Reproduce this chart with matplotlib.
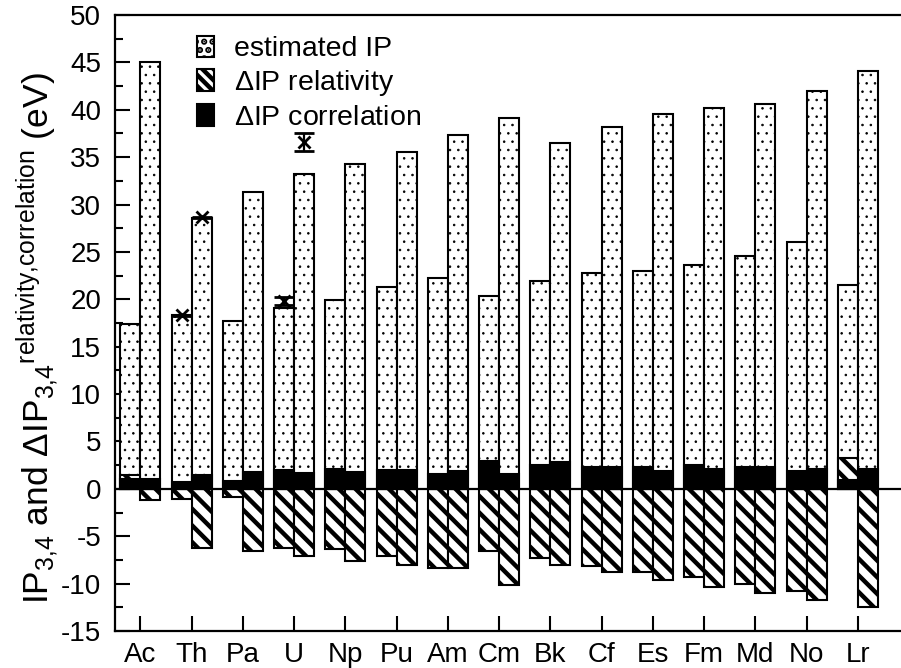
import numpy as np
import matplotlib
matplotlib.use('Agg')
import matplotlib.pyplot as plt
from matplotlib.patches import Patch

plt.rcParams['font.family'] = ['Liberation Sans', 'DejaVu Sans']
plt.rcParams['mathtext.fontset'] = 'custom'
plt.rcParams['mathtext.rm'] = 'Liberation Sans'
plt.rcParams['mathtext.it'] = 'Liberation Sans'
plt.rcParams['hatch.color'] = 'black'
plt.rcParams['axes.unicode_minus'] = False

elements = ['Ac', 'Th', 'Pa', 'U', 'Np', 'Pu', 'Am', 'Cm', 'Bk', 'Cf', 'Es', 'Fm', 'Md', 'No', 'Lr']

# estimated IP3 / IP4 (eV)
est_ip3 = [17.4, 18.3, 17.7, 19.1, 19.9, 21.3, 22.3, 20.3, 21.9, 22.8, 23.0, 23.6, 24.6, 26.0, 21.5]
est_ip4 = [45.0, 28.6, 31.3, 33.2, 34.3, 35.5, 37.3, 39.1, 36.5, 38.2, 39.6, 40.2, 40.6, 42.0, 44.1]
# relativity contribution
rel_ip3 = [1.5, -1.1, -0.9, -6.2, -6.4, -7.1, -8.3, -6.6, -7.3, -8.1, -8.8, -9.3, -10.0, -10.8, 3.3]
rel_ip4 = [-1.2, -6.2, -6.6, -7.1, -7.6, -8.0, -8.4, -10.1, -8.0, -8.8, -9.6, -10.4, -11.0, -11.7, -12.5]
# correlation contribution
corr_ip3 = [1.0, 0.7, 0.8, 2.0, 2.1, 2.0, 1.6, 2.9, 2.5, 2.3, 2.3, 2.5, 2.3, 1.9, 0.95]
corr_ip4 = [1.0, 1.5, 1.8, 1.7, 1.8, 2.0, 1.9, 1.6, 2.8, 2.3, 1.9, 2.1, 2.3, 2.1, 2.1]

# experimental values (element, which IP, value, error)
exp_elem = ['Th', 'Th', 'U', 'U']
exp_ip = [3, 4, 3, 4]
exp_val = [18.32, 28.65, 19.8, 36.6]
exp_err = [0.06, 0.06, 0.45, 0.9]

fig = plt.figure(figsize=(9.01, 6.68), dpi=100)
ax = fig.add_axes([115/901, 37/668, 790/901, 616/668])

x = np.arange(len(elements))
w = 0.39
lw = 1.5

plt.rcParams['hatch.linewidth'] = 0.6
ax.bar(x - w/2, est_ip3, w, facecolor='white', edgecolor='black', hatch='..', linewidth=lw, zorder=2)
ax.bar(x + w/2, est_ip4, w, facecolor='white', edgecolor='black', hatch='..', linewidth=lw, zorder=2)
plt.rcParams['hatch.linewidth'] = 3.2
ax.bar(x - w/2, rel_ip3, w, facecolor='white', edgecolor='black', hatch='\\\\', linewidth=lw, zorder=3)
ax.bar(x + w/2, rel_ip4, w, facecolor='white', edgecolor='black', hatch='\\\\', linewidth=lw, zorder=3)
ax.bar(x - w/2, corr_ip3, w, facecolor='black', edgecolor='black', linewidth=lw, zorder=4)
ax.bar(x + w/2, corr_ip4, w, facecolor='black', edgecolor='black', linewidth=lw, zorder=4)

ax.axhline(0, color='black', lw=1.6, zorder=5)

ex = [elements.index(e) + (-w/2 if ip == 3 else w/2) for e, ip in zip(exp_elem, exp_ip)]
ax.errorbar(ex, exp_val, yerr=exp_err, fmt='x', color='black', ms=9, mew=2,
            capsize=7, elinewidth=1.6, capthick=1.6, zorder=6)

ax.set_xlim(-0.494, 14.92)
ax.set_ylim(-15, 50)
ax.set_yticks(np.arange(-15, 51, 5))
ax.set_yticks(np.arange(-15, 50, 2.5), minor=True)
ax.set_xticks(x)
ax.set_xticklabels(elements)

ax.tick_params(axis='both', which='major', direction='in', labelsize=20, width=1.5, length=11)
ax.tick_params(axis='y', which='minor', direction='in', width=1.5, length=6)
ax.tick_params(axis='y', pad=10)
ax.tick_params(axis='x', pad=8)
for s in ax.spines.values():
    s.set_linewidth(1.6)
ax.spines['right'].set_visible(False)

ax.set_ylabel(r'$\mathregular{IP_{3{,}4}}$ and $\mathregular{\Delta IP_{3{,}4}{}^{relativity{,}correlation}}$ (eV)',
              fontsize=25.5, labelpad=0)
ax.yaxis.label.set_y(0.475)

handles = [Patch(facecolor='white', edgecolor='black', hatch='..', linewidth=lw),
           Patch(facecolor='white', edgecolor='black', hatch='\\\\\\', linewidth=lw),
           Patch(facecolor='black', edgecolor='black', linewidth=lw)]
ax.legend(handles, ['estimated IP', r'$\mathregular{\Delta}$IP relativity', r'$\mathregular{\Delta}$IP correlation'],
          loc='upper left', bbox_to_anchor=(0.071, 1.008), frameon=False, fontsize=20.5,
          handlelength=0.62, handleheight=0.8, handletextpad=0.7, labelspacing=0.2)

fig.savefig('out.png', dpi=100)
